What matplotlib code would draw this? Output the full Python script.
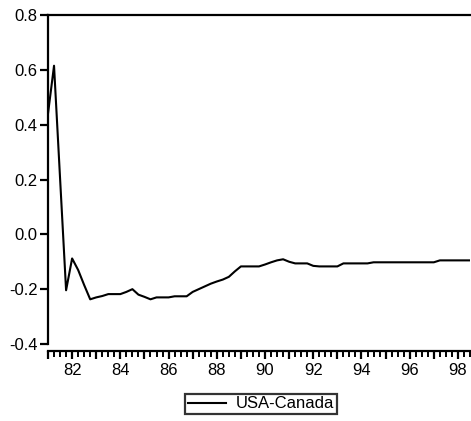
import numpy as np
import matplotlib
matplotlib.use("Agg")
import matplotlib.pyplot as plt
from matplotlib.ticker import MultipleLocator, FuncFormatter

plt.rcParams['font.family'] = ['Liberation Sans', 'DejaVu Sans']
plt.rcParams['axes.unicode_minus'] = False

# Quarterly series, 1981Q1 - 1998Q3
start_year = 1981
series_name = "USA-Canada"
values = [
    0.44, 0.615, 0.205, -0.204,            # 1981
    -0.088, -0.13, -0.185, -0.237,         # 1982
    -0.23, -0.225, -0.218, -0.218,         # 1983
    -0.218, -0.21, -0.2, -0.22,            # 1984
    -0.228, -0.237, -0.23, -0.23,          # 1985
    -0.23, -0.226, -0.226, -0.226,         # 1986
    -0.21, -0.2, -0.19, -0.18,             # 1987
    -0.172, -0.165, -0.155, -0.135,        # 1988
    -0.117, -0.117, -0.117, -0.117,        # 1989
    -0.11, -0.102, -0.095, -0.091,         # 1990
    -0.1, -0.106, -0.106, -0.106,          # 1991
    -0.115, -0.117, -0.117, -0.117,        # 1992
    -0.117, -0.106, -0.106, -0.106,        # 1993
    -0.106, -0.106, -0.102, -0.102,        # 1994
    -0.102, -0.102, -0.102, -0.102,        # 1995
    -0.102, -0.102, -0.102, -0.102,        # 1996
    -0.102, -0.095, -0.095, -0.095,        # 1997
    -0.095, -0.095, -0.095,                # 1998
]
y_ticks = [-0.4, -0.2, 0.0, 0.2, 0.4, 0.6, 0.8]

t = start_year + np.arange(len(values)) / 4.0

fig = plt.figure(figsize=(4.71, 4.21), dpi=100)
ax = fig.add_axes([48 / 471, 1 - 344 / 421, 422 / 471, 329 / 421])

ax.plot(t, values, color="black", lw=1.5, label=series_name)

ax.set_xlim(t[0], t[-1])
ax.set_ylim(y_ticks[0], y_ticks[-1])

ax.spines["right"].set_visible(False)
for side in ("left", "top", "bottom"):
    ax.spines[side].set_linewidth(1.6)
ax.spines["bottom"].set_position(("outward", 5))

ax.set_yticks(y_ticks)
ax.yaxis.set_major_formatter(FuncFormatter(lambda v, p: f"{v:.1f}"))
ax.tick_params(axis="y", direction="out", length=6, width=1.6, labelsize=12, pad=1.5)

ax.xaxis.set_major_locator(MultipleLocator(1))
ax.xaxis.set_minor_locator(MultipleLocator(0.25))
ax.xaxis.set_major_formatter(
    FuncFormatter(lambda v, p: f"{int(round(v)) % 100:02d}" if int(round(v)) % 2 == 0 else ""))
ax.tick_params(axis="x", which="major", direction="out", length=6, width=1.6, labelsize=12, pad=2.5)
ax.tick_params(axis="x", which="minor", direction="out", length=4, width=1.4)

leg = fig.legend(loc="center", bbox_to_anchor=(261 / 471, 1 - 404 / 421),
                 frameon=True, fancybox=False, edgecolor="black", fontsize=12,
                 handlelength=2.3, borderpad=0.15, handletextpad=0.6, borderaxespad=0)
leg.get_frame().set_linewidth(1.6)

fig.savefig("out.png", dpi=100, facecolor="white")
